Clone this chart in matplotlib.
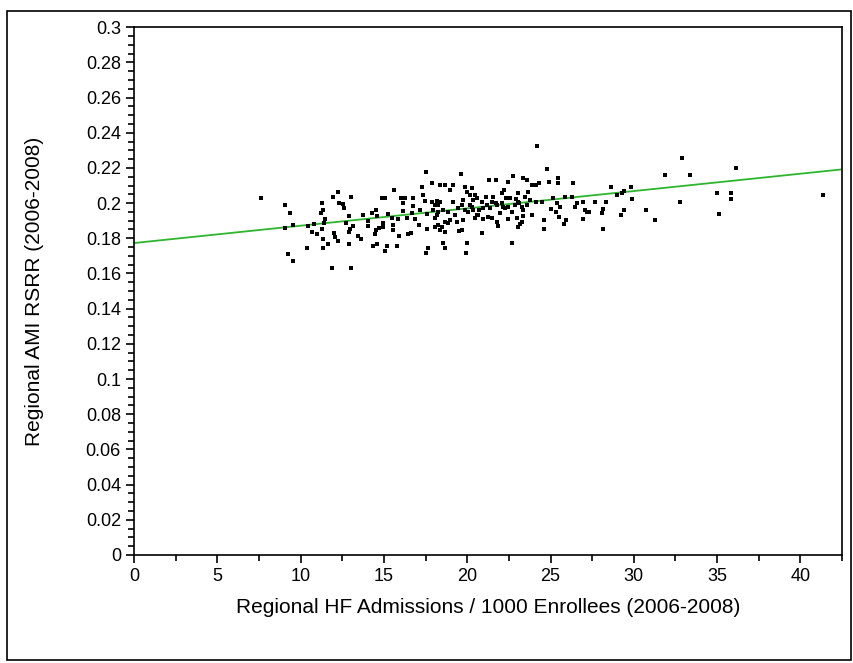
import matplotlib.pyplot as plt
from matplotlib.patches import Rectangle
from matplotlib.ticker import MultipleLocator

# HF admissions per 1000 enrollees (x) vs AMI RSRR (y)
hf_rate = [
    7.62, 9.04, 9.36, 9.04, 9.56, 9.26, 9.56, 10.4, 10.46, 10.8, 10.66, 11.0,
    11.26, 11.32, 11.36, 11.22, 11.32, 11.3, 11.46, 11.4, 11.66, 11.92, 12.22,
    11.9, 12.02, 12.06, 12.22, 12.32, 12.52, 12.6, 13.02, 13.02, 12.72, 12.92,
    12.96, 12.92, 12.92, 13.16, 13.46, 13.6, 13.76, 14.06, 14.06, 14.26, 14.36,
    14.52, 14.56, 14.52, 14.46, 14.6, 14.72, 14.86, 15.06, 14.92, 14.96, 15.06,
    15.16, 15.26, 15.46, 15.6, 15.52, 15.56, 15.76, 15.86, 15.92, 16.02, 16.16,
    16.26, 16.16, 16.36, 16.46, 16.6, 16.66, 16.72, 16.76, 16.86, 17.12, 17.16,
    17.26, 17.32, 17.46, 17.52, 17.56, 17.66, 17.52, 17.86, 17.56, 17.92,
    18.06, 18.16, 18.26,
    24.18, 18.36, 18.66, 19.16, 18.96, 19.6, 19.86, 20.26, 19.96, 20.16, 20.46,
    20.56, 20.36, 21.32, 21.72, 22.46, 22.76, 23.36, 23.56, 23.86, 24.12, 24.32,
    24.8, 24.9, 25.42, 25.42, 26.32, 28.66, 29.0, 28.36, 28.16, 28.16, 28.06,
    27.66, 27.32, 27.16, 27.06, 26.92, 26.96, 26.56, 26.46, 26.26, 25.86, 25.82,
    25.92, 25.52, 25.56, 25.32, 25.4, 25.16, 25.0, 24.6, 24.6, 24.46, 24.12,
    23.86, 23.76, 23.66, 23.36, 23.32, 23.26, 23.16, 23.06, 23.0, 23.12, 23.06,
    22.92, 22.66, 22.56, 22.46, 22.32, 22.2, 22.06, 21.96, 21.86, 21.76, 21.72,
    21.46, 21.26, 21.12, 20.96, 20.86, 20.72, 20.56, 20.46, 20.26, 19.96, 19.92,
    19.76, 19.66, 19.52, 19.36, 19.26, 19.16, 18.96, 18.86, 18.66, 18.66, 18.52,
    18.66, 18.46, 18.36, 18.26, 18.06, 18.16, 17.96, 17.86,
    18.06, 18.36, 18.26, 18.56, 18.86, 19.46, 19.66, 19.76, 19.86, 20.06, 20.16,
    20.36, 20.66, 20.86, 20.96, 21.16, 21.46, 21.56, 21.76, 22.06, 22.26, 22.46,
    22.66, 22.86, 23.06, 23.26, 23.46, 23.56, 22.16, 21.36,
    32.88, 31.86, 33.4, 36.16, 29.82, 29.4, 29.92, 29.4, 29.22, 30.74, 31.26,
    32.78, 35.02, 35.86, 35.86, 35.12, 41.38, 29.32,
]
ami_rsrr = [
    0.2027, 0.1989, 0.1942, 0.1860, 0.1875, 0.1709, 0.1669, 0.1746, 0.1871,
    0.1879, 0.1834, 0.1822, 0.1853, 0.1796, 0.1746, 0.1942, 0.1960, 0.1998,
    0.1907, 0.1888, 0.1765, 0.2036, 0.2065, 0.1633, 0.1832, 0.1805, 0.1784,
    0.2002, 0.1995, 0.1970, 0.2036, 0.1633, 0.1888, 0.1926, 0.1851, 0.1834,
    0.1765, 0.1871, 0.1815, 0.1794, 0.1932, 0.1900, 0.1870, 0.1942, 0.1756,
    0.1960, 0.1926, 0.1847, 0.1822, 0.1765, 0.1860, 0.2027, 0.2027, 0.1866,
    0.1885, 0.1729, 0.1756, 0.1938, 0.1913, 0.2074, 0.1875, 0.1847, 0.1756,
    0.1907, 0.1813, 0.2027, 0.1998, 0.2027, 0.1955, 0.1913, 0.1822, 0.1832,
    0.1942, 0.1983, 0.2027, 0.1907, 0.1875, 0.1960, 0.2093, 0.2046, 0.2014,
    0.2178, 0.1938, 0.1743, 0.1718, 0.2112, 0.1853, 0.1960, 0.1913, 0.2014,
    0.1989,
    0.2326, 0.2102, 0.2102, 0.2102, 0.2074, 0.2163, 0.2093, 0.2084, 0.2065,
    0.2046, 0.2046, 0.2027, 0.2017, 0.2131, 0.2131, 0.2121, 0.2154, 0.2140,
    0.2131, 0.2102, 0.2102, 0.2116, 0.2191, 0.2121, 0.2144, 0.2112, 0.2112,
    0.2093, 0.2046, 0.2008, 0.1964, 0.1853, 0.1942, 0.2008, 0.1951, 0.1951,
    0.1960, 0.1909, 0.2008, 0.2002, 0.1979, 0.2036, 0.2036, 0.1879, 0.1904,
    0.1919, 0.1979, 0.1951, 0.2002, 0.2027, 0.1966, 0.1904, 0.1853, 0.2008,
    0.2008, 0.1932, 0.2017, 0.2065, 0.1926, 0.1960, 0.1894, 0.1879, 0.1866,
    0.1913, 0.1998, 0.2055, 0.2021, 0.1775, 0.2027, 0.1907, 0.2027, 0.2074,
    0.2055, 0.1942, 0.1870, 0.1894, 0.1998, 0.2008, 0.1923, 0.2036, 0.1907,
    0.1832, 0.1960, 0.1932, 0.1913, 0.1979, 0.1775, 0.1718, 0.1904, 0.1847,
    0.1843, 0.1894, 0.1932, 0.2008, 0.1904, 0.1888, 0.1894, 0.1837, 0.1775,
    0.1746, 0.1866, 0.1847, 0.1875, 0.1866, 0.1932, 0.1960, 0.2008,
    0.1989, 0.2008, 0.1951, 0.1960, 0.1951, 0.1970, 0.1989, 0.2017, 0.1960,
    0.1951, 0.1989, 0.1960, 0.1932, 0.2008, 0.1970, 0.1989, 0.1913, 0.2036,
    0.1989, 0.1998, 0.1970, 0.1979, 0.1951, 0.1989, 0.2008, 0.1979, 0.2036,
    0.1989, 0.1979, 0.1970,
    0.2258, 0.2161, 0.2161, 0.2199, 0.2093, 0.2068, 0.2025, 0.1959, 0.1930,
    0.1959, 0.1902, 0.2006, 0.2055, 0.2055, 0.2025, 0.1940, 0.2046, 0.2055,
]

# fitted regression line
fit_intercept = 0.1773
fit_slope = 0.000985
x_max = 42.5

plt.rcParams['font.family'] = ['Liberation Sans', 'DejaVu Sans']

fig = plt.figure(figsize=(8.54, 6.63), dpi=100)
ax = fig.add_axes([0.157, 0.163, 0.829, 0.796])

ax.scatter(hf_rate, ami_rsrr, marker='s', s=7, color='black', linewidths=0, zorder=3)
ax.plot([0, x_max], [fit_intercept, fit_intercept + fit_slope * x_max],
        color='#2eb52e', linewidth=1.3, zorder=2)

ax.set_xlim(0, x_max)
ax.set_ylim(0, 0.3)
ax.xaxis.set_major_locator(MultipleLocator(5))
ax.xaxis.set_minor_locator(MultipleLocator(2.5))
ax.yaxis.set_major_locator(MultipleLocator(0.02))
ax.yaxis.set_minor_locator(MultipleLocator(0.005))
ax.set_yticklabels(['0' if abs(v) < 1e-9 else ('%g' % round(v, 2)) for v in ax.get_yticks()])

ax.tick_params(which='both', direction='out', color='black', width=1.2, labelsize=13)
ax.tick_params(which='major', length=6)
ax.tick_params(which='minor', length=4)
for side in ['left', 'bottom', 'right', 'top']:
    ax.spines[side].set_linewidth(1.2)

ax.set_xlabel('Regional HF Admissions / 1000 Enrollees (2006-2008)', fontsize=15, labelpad=9)
ax.set_ylabel('Regional AMI RSRR (2006-2008)', fontsize=15, labelpad=30)

# border around the whole picture
fig.patches.append(Rectangle((0.008, 0.004), 0.988, 0.98, transform=fig.transFigure,
                             fill=False, edgecolor='black', linewidth=1.2))

plt.savefig('out.png', dpi=100)
